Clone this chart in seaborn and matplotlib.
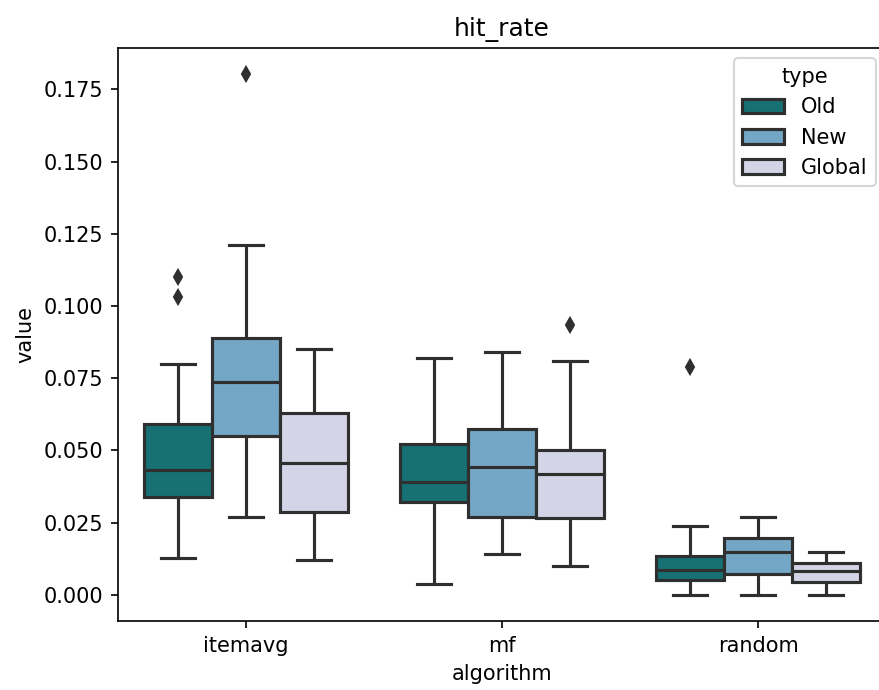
import matplotlib
matplotlib.use("Agg")
import matplotlib.pyplot as plt
import seaborn as sns
import pandas as pd

algorithms = ["itemavg", "mf", "random"]
types = ["Old", "New", "Global"]
palette = ["#167074", "#74a6c5", "#d3d5e6"]

itemavg_old = [0.0127, 0.020, 0.028, 0.0340, 0.037, 0.040, 0.0432, 0.048, 0.054, 0.0593, 0.080, 0.103, 0.110]
itemavg_new = [0.0271, 0.040, 0.050, 0.0551, 0.062, 0.068, 0.0738, 0.079, 0.084, 0.0888, 0.100, 0.1210, 0.1803]
itemavg_global = [0.0121, 0.018, 0.024, 0.0288, 0.035, 0.041, 0.0455, 0.051, 0.057, 0.0631, 0.070, 0.078, 0.0851]
mf_old = [0.0037, 0.015, 0.026, 0.0321, 0.034, 0.036, 0.0391, 0.044, 0.048, 0.0523, 0.060, 0.071, 0.0820]
mf_new = [0.0142, 0.019, 0.023, 0.0271, 0.032, 0.038, 0.0442, 0.049, 0.053, 0.0576, 0.065, 0.075, 0.0842]
mf_global = [0.0100, 0.016, 0.022, 0.0266, 0.032, 0.037, 0.0417, 0.045, 0.048, 0.0501, 0.062, 0.0809, 0.0934]
random_old = [0.0, 0.002, 0.004, 0.0051, 0.006, 0.007, 0.0088, 0.010, 0.012, 0.0136, 0.018, 0.0239, 0.0788]
random_new = [0.0, 0.003, 0.005, 0.0074, 0.009, 0.012, 0.0148, 0.016, 0.018, 0.0196, 0.022, 0.024, 0.0270]
random_global = [0.0, 0.002, 0.003, 0.0046, 0.006, 0.007, 0.0083, 0.009, 0.010, 0.0110, 0.012, 0.013, 0.0148]

groups = {
    ("itemavg", "Old"): itemavg_old,
    ("itemavg", "New"): itemavg_new,
    ("itemavg", "Global"): itemavg_global,
    ("mf", "Old"): mf_old,
    ("mf", "New"): mf_new,
    ("mf", "Global"): mf_global,
    ("random", "Old"): random_old,
    ("random", "New"): random_new,
    ("random", "Global"): random_global,
}

rows = []
for (alg, typ), vals in groups.items():
    for v in vals:
        rows.append({"algorithm": alg, "type": typ, "value": v})
df = pd.DataFrame(rows)

dpi = 150
fig, ax = plt.subplots(figsize=(879 / dpi, 690 / dpi), dpi=dpi)
fig.subplots_adjust(left=118 / 879, right=886 / 879, top=1 - 48 / 690, bottom=1 - 621 / 690)

sns.boxplot(
    data=df, x="algorithm", y="value", hue="type",
    order=algorithms, hue_order=types, palette=palette,
    saturation=1, width=0.8, linewidth=1.5, linecolor="#2f2f2f",
    fliersize=5,
    flierprops=dict(marker="d", markerfacecolor="#2f2f2f", markeredgecolor="#2f2f2f"),
    ax=ax,
)
ax.set_title("hit_rate")
ax.set_xlabel("algorithm")
ax.set_ylabel("value")
ax.legend(title="type", loc="upper right")
for h in ax.get_legend().legend_handles:
    h.set_edgecolor("#2f2f2f")

fig.savefig("out.png", dpi=dpi)
